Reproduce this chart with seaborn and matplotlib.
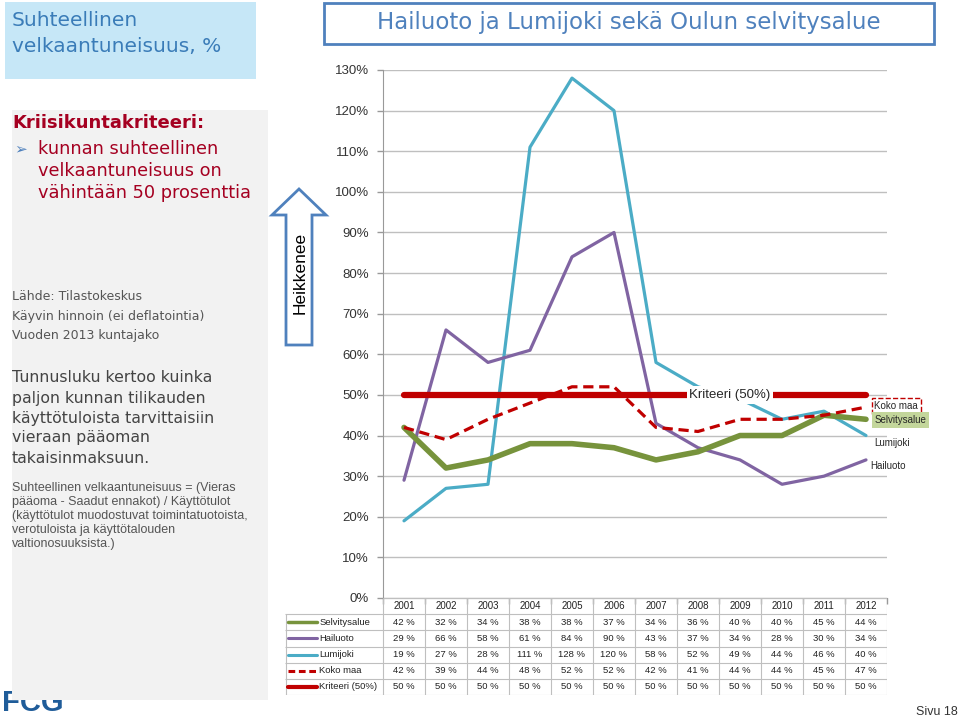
import numpy as np
import pandas as pd
import matplotlib
matplotlib.use("Agg")
import matplotlib.pyplot as plt
import matplotlib.patches as mpatches
from matplotlib.lines import Line2D
import seaborn as sns

years = ["2001", "2002", "2003", "2004", "2005", "2006", "2007", "2008", "2009", "2010", "2011", "2012"]
selvitysalue = [42, 32, 34, 38, 38, 37, 34, 36, 40, 40, 45, 44]
hailuoto = [29, 66, 58, 61, 84, 90, 43, 37, 34, 28, 30, 34]
lumijoki = [19, 27, 28, 111, 128, 120, 58, 52, 49, 44, 46, 40]
koko_maa = [42, 39, 44, 48, 52, 52, 42, 41, 44, 44, 45, 47]
kriteeri = [50, 50, 50, 50, 50, 50, 50, 50, 50, 50, 50, 50]
series_names = ["Selvitysalue", "Hailuoto", "Lumijoki", "Koko maa", "Kriteeri (50%)"]
yticks = [0, 10, 20, 30, 40, 50, 60, 70, 80, 90, 100, 110, 120, 130]

sns.set_style("white")
plt.rcParams["font.family"] = ["Liberation Sans", "DejaVu Sans"]
WIDE = ["DejaVu Sans"]

W, H = 960, 721
fig = plt.figure(figsize=(9.6, 7.21), dpi=100)


def px(x, y):
    return (x / W, 1 - y / H)


def box(x0, y0, x1, y1):
    return [x0 / W, 1 - y1 / H, (x1 - x0) / W, (y1 - y0) / H]


# ---- background panels
fig.patches.append(mpatches.Rectangle(px(5, 79), 251 / W, 77 / H, transform=fig.transFigure,
                                      facecolor="#C6E7F7", edgecolor="none", zorder=0))
fig.text(*px(12, 21), "Suhteellinen", fontsize=14.5, color="#3A7CB8", va="center", ha="left", family=WIDE)
fig.text(*px(12, 46), "velkaantuneisuus, %", fontsize=14.5, color="#3A7CB8", va="center", ha="left",
         family=WIDE)

# logo partly hidden
fig.text(*px(2, 703), "FCG", fontsize=21, color="#1F5C99", fontweight="bold", va="center", ha="left", zorder=0)
fig.patches.append(mpatches.Rectangle(px(12, 700), 256 / W, 590 / H, transform=fig.transFigure,
                                      facecolor="#F2F2F2", edgecolor="none", zorder=1))

fig.text(*px(12, 123), "Kriisikuntakriteeri:", fontsize=13, color="#A50021", fontweight="bold",
         va="center", ha="left", zorder=2, family=WIDE)
fig.text(*px(14, 149), "➢", fontsize=11, color="#4F81BD", va="center", ha="left",
         family=WIDE, zorder=2)
for i, t in enumerate(["kunnan suhteellinen", "velkaantuneisuus on", "vähintään 50 prosenttia"]):
    fig.text(*px(38, 149 + i * 22), t, fontsize=12.8, color="#A50021", va="center", ha="left", zorder=2,
             family=WIDE)

for i, t in enumerate(["Lähde: Tilastokeskus", "Käyvin hinnoin (ei deflatointia)", "Vuoden 2013 kuntajako"]):
    fig.text(*px(12, 297 + i * 19.5), t, fontsize=9, color="#555555", va="center", ha="left", zorder=2,
             family=WIDE)

for i, t in enumerate(["Tunnusluku kertoo kuinka", "paljon kunnan tilikauden", "käyttötuloista tarvittaisiin",
                       "vieraan pääoman", "takaisinmaksuun."]):
    fig.text(*px(12, 378 + i * 20), t, fontsize=11.3, color="#444444", va="center", ha="left", zorder=2,
             family=WIDE)

for i, t in enumerate(["Suhteellinen velkaantuneisuus = (Vieras", "pääoma - Saadut ennakot) / Käyttötulot",
                       "(käyttötulot muodostuvat toimintatuotoista,", "verotuloista ja käyttötalouden",
                       "valtionosuuksista.)"]):
    fig.text(*px(12, 488 + i * 14), t, fontsize=9, color="#555555", va="center", ha="left", zorder=2)

# title box
fig.patches.append(mpatches.Rectangle(px(324, 44), 610 / W, 41 / H, transform=fig.transFigure,
                                      facecolor="white", edgecolor="#4F81BD", lw=2, zorder=2))
fig.text(*px(629, 23), "Hailuoto ja Lumijoki sekä Oulun selvitysalue", fontsize=16.5, color="#4F81BD",
         va="center", ha="center", zorder=3, family=WIDE)

# arrow
pts = [(286, 345), (312, 345), (312, 215), (326, 215), (299, 189), (272, 215), (286, 215)]
fig.patches.append(mpatches.Polygon([px(*p) for p in pts], closed=True, transform=fig.transFigure,
                                    facecolor="white", edgecolor="#4F81BD", lw=2, zorder=3))
fig.text(*px(300, 273), "Heikkenee", fontsize=12.5, rotation=90, color="black", va="center", ha="center",
         zorder=4)

fig.text(*px(916, 712), "Sivu 18", fontsize=9, color="#333333", va="center", ha="left")

# ---- main chart
ax = fig.add_axes(box(383, 70, 887, 598))
x = np.arange(len(years))
df = pd.DataFrame({"x": x, "Selvitysalue": selvitysalue, "Hailuoto": hailuoto, "Lumijoki": lumijoki,
                   "Koko maa": koko_maa, "Kriteeri (50%)": kriteeri})

sns.lineplot(data=df, x="x", y="Lumijoki", ax=ax, color="#4BACC6", lw=2.3, zorder=3)
sns.lineplot(data=df, x="x", y="Hailuoto", ax=ax, color="#8064A2", lw=2.3, zorder=3)
sns.lineplot(data=df, x="x", y="Selvitysalue", ax=ax, color="#77933C", lw=4, zorder=4)
sns.lineplot(data=df, x="x", y="Kriteeri (50%)", ax=ax, color="#C00000", lw=4.5, zorder=5)
sns.lineplot(data=df, x="x", y="Koko maa", ax=ax, color="#C00000", lw=2.3, zorder=6,
             linestyle=(0, (3.2, 1.8)))

ax.set_xlim(-0.5, 11.5)
ax.set_ylim(0, 130)
ax.set_yticks(yticks)
ax.set_yticklabels([f"{v}%" for v in yticks], fontsize=9.5, color="#333333")
ax.yaxis.grid(True, color="#BFBFBF", lw=1)
ax.set_xticks(np.arange(-0.5, 12, 1))
ax.set_xticklabels([])
ax.tick_params(axis="x", direction="out", length=4, color="#999999", width=1, bottom=True)
ax.tick_params(axis="y", direction="out", length=4, color="#999999", width=1, left=True, pad=6)
ax.set_xlabel("")
ax.set_ylabel("")
for s in ["top", "right"]:
    ax.spines[s].set_visible(False)
ax.spines["left"].set_color("#999999")
ax.spines["bottom"].set_color("#999999")

# series labels
ax.text(7.76, 50, "Kriteeri (50%)", fontsize=9.5, ha="center", va="center", zorder=7,
        bbox=dict(facecolor="white", edgecolor="none", pad=2))
ax.text(11.2, 47.3, "Koko maa", fontsize=7, ha="left", va="center", zorder=7, clip_on=False,
        bbox=dict(facecolor="white", edgecolor="#C00000", linestyle="--", lw=1, pad=2))
ax.text(11.2, 43.8, "Selvitysalue", fontsize=7, ha="left", va="center", zorder=7, clip_on=False,
        bbox=dict(facecolor="#C3D69B", edgecolor="none", pad=2))
ax.text(11.2, 38.2, "Lumijoki", fontsize=7, ha="left", va="center", zorder=7, clip_on=False)
ax.text(11.1, 32.6, "Hailuoto", fontsize=7, ha="left", va="center", zorder=7, clip_on=False)

# ---- data table
tab = fig.add_axes(box(285, 598, 887, 695))
lab_w = 98 / 42.0
tab.set_xlim(-0.5 - lab_w, 11.5)
tab.set_ylim(6, 0)
tab.axis("off")
grid_c = "#BFBFBF"
for i, yr in enumerate(years):
    tab.text(i, 0.5, yr, fontsize=7, ha="center", va="center", color="#222222")
tab.hlines(np.arange(0, 7), -0.5, 11.5, color=grid_c, lw=0.8)
tab.hlines(np.arange(1, 7), -0.5 - lab_w, -0.5, color=grid_c, lw=0.8)
tab.vlines(np.arange(-0.5, 12, 1), 0, 6, color=grid_c, lw=0.8)
tab.vlines(-0.5 - lab_w + 0.02, 1, 6, color=grid_c, lw=0.8)

rows = [selvitysalue, hailuoto, lumijoki, koko_maa, kriteeri]
styles = [dict(color="#77933C", lw=2.5), dict(color="#8064A2", lw=2.2), dict(color="#4BACC6", lw=2.2),
          dict(color="#C00000", lw=2.2, linestyle=(0, (2.2, 1.2))), dict(color="#C00000", lw=3)]
x0 = -0.5 - lab_w
for r, (name, vals, st) in enumerate(zip(series_names, rows, styles)):
    yy = r + 1.5
    tab.add_line(Line2D([x0 + 0.08, x0 + 0.76], [yy, yy], **st))
    tab.text(x0 + 0.82, yy, name, fontsize=6.8, ha="left", va="center", color="#222222")
    for i, v in enumerate(vals):
        tab.text(i, yy, f"{v} %", fontsize=6.8, ha="center", va="center", color="#222222")

fig.savefig("out.png", dpi=100)
